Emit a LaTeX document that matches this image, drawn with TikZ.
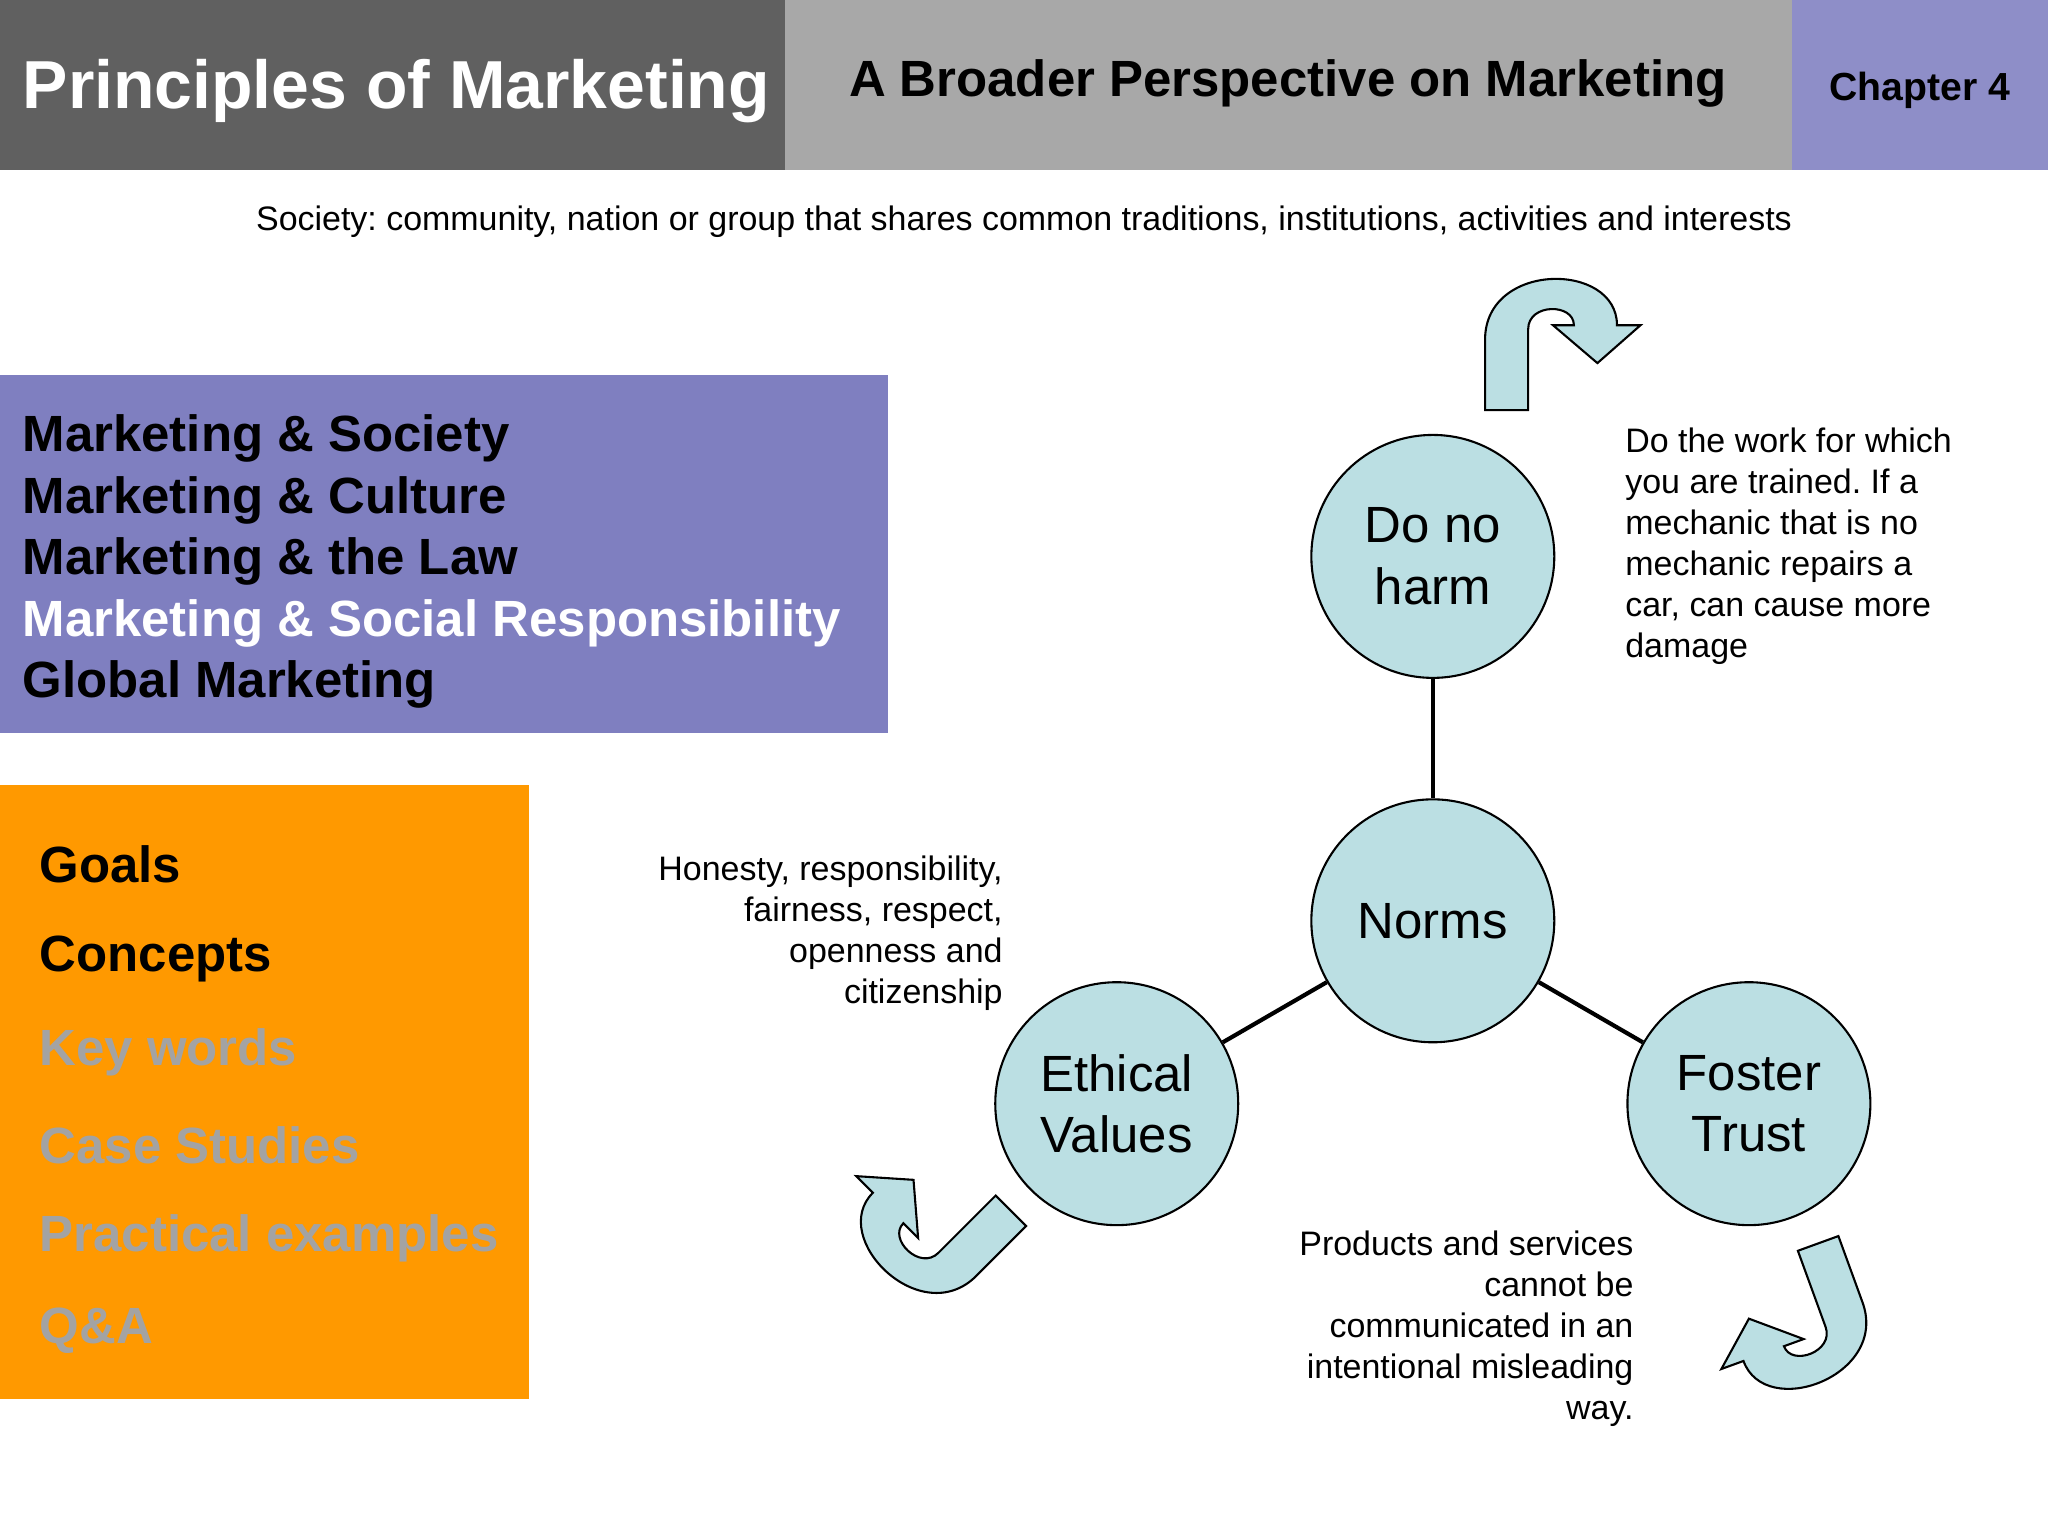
\documentclass[tikz,border=0pt]{standalone}
\usepackage{fontspec}
\setmainfont{Liberation Sans}
\frenchspacing
\begin{document}
\begin{tikzpicture}[x=0.5pt,y=-0.5pt,
  circ/.style={circle,draw=black,line width=0.8pt,fill=circfill,minimum size=93pt,inner sep=0pt,align=center,font=\fontsize{19.5}{23.5}\selectfont},
  conn/.style={line width=1.6pt},
  uarrow/.style={fill=circfill,draw=black,line width=0.8pt,line join=miter},
  note/.style={font=\fontsize{13}{15.7}\selectfont,inner sep=0pt},
  menu/.style={font=\bfseries\fontsize{19.5}{23.5}\selectfont,anchor=west,inner sep=0pt}]
\definecolor{circfill}{HTML}{BBDFE3}
\definecolor{darkhead}{HTML}{606060}
\definecolor{lighthead}{HTML}{A8A8A8}
\definecolor{purplehead}{HTML}{8E8EC8}
\definecolor{purplebox}{HTML}{7F7FC0}
\definecolor{orangebox}{HTML}{FF9900}
\definecolor{greytext}{HTML}{A3A3A3}
\useasboundingbox (0,0) rectangle (1568,1176);
\fill[white] (0,0) rectangle (1568,1176);
% header
\fill[darkhead] (0,0) rectangle (601,130);
\fill[lighthead] (601,0) rectangle (1372,130);
\fill[purplehead] (1372,0) rectangle (1568,130);
\node[anchor=west,text=white,font=\bfseries\fontsize{26}{30}\selectfont,inner sep=0pt] (title) at (17,70) {Principles of Marketing};
\node[font=\bfseries\fontsize{19.5}{24}\selectfont,inner sep=0pt] (sub) at (986,64) {A Broader Perspective on Marketing};
\node[font=\bfseries\fontsize{15}{18}\selectfont,inner sep=0pt] (chap) at (1470,69) {Chapter 4};
\node[note] (soc) at (784,170) {Society: community, nation or group that shares common traditions, institutions, activities and interests};
% purple box
\fill[purplebox] (0,287) rectangle (680,561);
\node[menu] (m1) at (17,336) {Marketing \& Society};
\node[menu] (m2) at (17,383) {Marketing \& Culture};
\node[menu] (m3) at (17,430) {Marketing \& the Law};
\node[menu,text=white] (m4) at (17,477) {Marketing \& Social Responsibility};
\node[menu] (m5) at (17,524) {Global Marketing};
% orange box
\fill[orangebox] (0,601) rectangle (405,1071);
\node[menu] (o1) at (30,662) {Goals};
\node[menu] (o2) at (30,734) {Concepts};
\node[menu,text=greytext] (o3) at (30,806) {Key words};
\node[menu,text=greytext] (o4) at (30,877) {Case Studies};
\node[menu,text=greytext] (o5) at (30,948) {Practical examples};
\node[menu,text=greytext] (o6) at (30,1019) {Q\&A};
% circles
\node[circ] (harm) at (1097,426) {Do no\\harm};
\node[circ] (norms) at (1097,705) {Norms};
\node[circ] (eth) at (855,845) {Ethical\\Values};
\node[circ] (trust) at (1339,845) {Foster\\Trust};
\draw[conn] (harm) -- (norms);
\draw[conn] (norms) -- (eth);
\draw[conn] (norms) -- (trust);
% notes
\node[note,anchor=north west,align=left] (n1) at (1244,327) {Do the work for which\\you are trained. If a\\mechanic that is no\\mechanic repairs a\\car, can cause more\\damage};
\node[note,anchor=north east,align=right] (n2) at (768,655) {Honesty, responsibility,\\fairness, respect,\\openness and\\citizenship};
\node[note,anchor=north east,align=right] (n3) at (1251,942) {Products and services\\cannot be\\communicated in an\\intentional misleading\\way.};
% u-turn arrows
\def\uturn{(-16.5,0) -- (-16.5,-54) .. controls (-16.5,-114) and (84.5,-114) .. (84.5,-65) -- (102.5,-65) -- (69.5,-36) -- (35.5,-65) -- (51.5,-65) .. controls (51.5,-82) and (16.5,-82) .. (16.5,-62) -- (16.5,0) -- cycle}
\draw[uarrow,shift={(1153.5,314)}] \uturn;
\draw[uarrow,shift={(774,927)},rotate=135] \uturn;
\draw[uarrow,shift={(1392,952)},rotate=-160] \uturn;
\end{tikzpicture}
\end{document}
